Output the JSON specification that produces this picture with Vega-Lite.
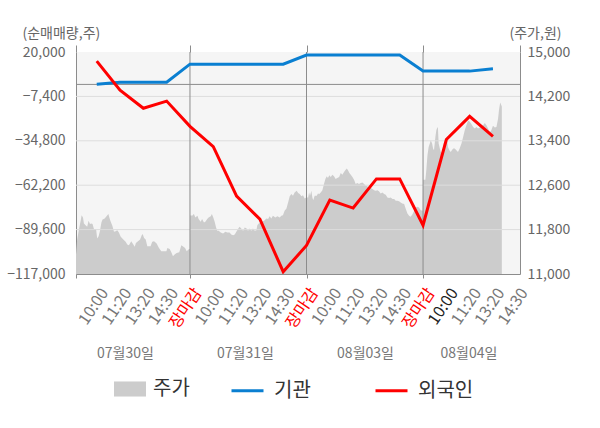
{
  "$schema": "https://vega.github.io/schema/vega-lite/v6.json",
  "width": 444,
  "height": 222,
  "autosize": {"type": "none"},
  "padding": {"left": 76, "top": 52, "right": 80, "bottom": 154},
  "background": "white",
  "config": {
    "font": "Noto Sans CJK KR",
    "view": {"fill": "#f5f5f5", "stroke": null}
  },
  "datasets": {
    "price": [
      {"t": 0.11, "p": 11350}, {"t": 0.16, "p": 11620}, {"t": 0.24, "p": 11810}, {"t": 0.31, "p": 11960},
      {"t": 0.35, "p": 12060}, {"t": 0.41, "p": 12020}, {"t": 0.45, "p": 11910}, {"t": 0.52, "p": 11880},
      {"t": 0.59, "p": 11850}, {"t": 0.65, "p": 11960}, {"t": 0.71, "p": 11900}, {"t": 0.77, "p": 11910},
      {"t": 0.82, "p": 11900}, {"t": 0.88, "p": 11810}, {"t": 0.97, "p": 11810}, {"t": 1.02, "p": 11640},
      {"t": 1.08, "p": 11680}, {"t": 1.14, "p": 11780}, {"t": 1.2, "p": 11930}, {"t": 1.25, "p": 11980},
      {"t": 1.34, "p": 12000}, {"t": 1.42, "p": 12040}, {"t": 1.5, "p": 12080}, {"t": 1.54, "p": 12020},
      {"t": 1.6, "p": 11940}, {"t": 1.67, "p": 11870}, {"t": 1.74, "p": 11760}, {"t": 1.81, "p": 11770},
      {"t": 1.88, "p": 11790}, {"t": 1.95, "p": 11750}, {"t": 2.03, "p": 11670}, {"t": 2.14, "p": 11620},
      {"t": 2.24, "p": 11580}, {"t": 2.31, "p": 11530}, {"t": 2.38, "p": 11520}, {"t": 2.48, "p": 11590},
      {"t": 2.57, "p": 11530}, {"t": 2.63, "p": 11490}, {"t": 2.68, "p": 11560}, {"t": 2.77, "p": 11590},
      {"t": 2.86, "p": 11620}, {"t": 2.93, "p": 11700}, {"t": 2.97, "p": 11720}, {"t": 3.03, "p": 11650},
      {"t": 3.1, "p": 11620}, {"t": 3.17, "p": 11500}, {"t": 3.31, "p": 11500}, {"t": 3.38, "p": 11580},
      {"t": 3.46, "p": 11590}, {"t": 3.57, "p": 11550}, {"t": 3.67, "p": 11470}, {"t": 3.77, "p": 11410},
      {"t": 3.89, "p": 11410}, {"t": 3.99, "p": 11410}, {"t": 4.03, "p": 11470}, {"t": 4.13, "p": 11450},
      {"t": 4.2, "p": 11390}, {"t": 4.27, "p": 11320}, {"t": 4.34, "p": 11350}, {"t": 4.43, "p": 11380},
      {"t": 4.54, "p": 11390}, {"t": 4.63, "p": 11520}, {"t": 4.72, "p": 11490}, {"t": 4.79, "p": 11470},
      {"t": 4.86, "p": 11410}, {"t": 4.96, "p": 11450}, {"t": 5.0, "p": 11450},
      {"t": 5.01, "p": 12050}, {"t": 5.03, "p": 12060}, {"t": 5.09, "p": 12050}, {"t": 5.17, "p": 12080},
      {"t": 5.23, "p": 12020}, {"t": 5.32, "p": 12050}, {"t": 5.37, "p": 11990}, {"t": 5.46, "p": 11940},
      {"t": 5.52, "p": 11990}, {"t": 5.6, "p": 11930}, {"t": 5.66, "p": 11940}, {"t": 5.74, "p": 11990},
      {"t": 5.8, "p": 12020}, {"t": 5.89, "p": 12040}, {"t": 5.94, "p": 12080}, {"t": 6.0, "p": 12020},
      {"t": 6.06, "p": 11940}, {"t": 6.12, "p": 11840}, {"t": 6.17, "p": 11780}, {"t": 6.23, "p": 11780},
      {"t": 6.32, "p": 11750}, {"t": 6.42, "p": 11730}, {"t": 6.52, "p": 11760}, {"t": 6.6, "p": 11750},
      {"t": 6.7, "p": 11750}, {"t": 6.77, "p": 11710}, {"t": 6.85, "p": 11700}, {"t": 6.92, "p": 11710},
      {"t": 6.99, "p": 11760}, {"t": 7.06, "p": 11810}, {"t": 7.13, "p": 11850}, {"t": 7.2, "p": 11820},
      {"t": 7.28, "p": 11780}, {"t": 7.35, "p": 11840}, {"t": 7.43, "p": 11820}, {"t": 7.49, "p": 11780},
      {"t": 7.56, "p": 11820}, {"t": 7.63, "p": 11780}, {"t": 7.7, "p": 11820}, {"t": 7.78, "p": 11780},
      {"t": 7.85, "p": 11790}, {"t": 7.89, "p": 11880}, {"t": 7.95, "p": 11910}, {"t": 8.03, "p": 11930},
      {"t": 8.09, "p": 11940}, {"t": 8.18, "p": 11960}, {"t": 8.28, "p": 12000}, {"t": 8.35, "p": 11990},
      {"t": 8.42, "p": 12040}, {"t": 8.49, "p": 12000}, {"t": 8.56, "p": 12050}, {"t": 8.66, "p": 12020},
      {"t": 8.75, "p": 12040}, {"t": 8.85, "p": 12020}, {"t": 8.92, "p": 12050}, {"t": 8.99, "p": 12060},
      {"t": 9.06, "p": 12140}, {"t": 9.14, "p": 12180}, {"t": 9.21, "p": 12290}, {"t": 9.28, "p": 12400},
      {"t": 9.35, "p": 12440}, {"t": 9.42, "p": 12410}, {"t": 9.49, "p": 12470}, {"t": 9.58, "p": 12500},
      {"t": 9.64, "p": 12460}, {"t": 9.71, "p": 12440}, {"t": 9.78, "p": 12400}, {"t": 9.85, "p": 12420},
      {"t": 9.92, "p": 12360}, {"t": 9.99, "p": 12380},
      {"t": 10.07, "p": 12380}, {"t": 10.11, "p": 12470}, {"t": 10.15, "p": 12410}, {"t": 10.21, "p": 12500},
      {"t": 10.25, "p": 12380}, {"t": 10.29, "p": 12330}, {"t": 10.35, "p": 12410}, {"t": 10.44, "p": 12410},
      {"t": 10.49, "p": 12450}, {"t": 10.55, "p": 12440}, {"t": 10.61, "p": 12470}, {"t": 10.68, "p": 12510},
      {"t": 10.75, "p": 12620}, {"t": 10.81, "p": 12710}, {"t": 10.87, "p": 12760}, {"t": 10.92, "p": 12730},
      {"t": 10.98, "p": 12780}, {"t": 11.04, "p": 12750}, {"t": 11.11, "p": 12790}, {"t": 11.18, "p": 12760},
      {"t": 11.25, "p": 12710}, {"t": 11.32, "p": 12730}, {"t": 11.4, "p": 12750}, {"t": 11.47, "p": 12820},
      {"t": 11.54, "p": 12790}, {"t": 11.61, "p": 12840}, {"t": 11.68, "p": 12880}, {"t": 11.73, "p": 12900},
      {"t": 11.78, "p": 12870}, {"t": 11.84, "p": 12820}, {"t": 11.9, "p": 12790}, {"t": 11.97, "p": 12750},
      {"t": 12.04, "p": 12700}, {"t": 12.11, "p": 12620}, {"t": 12.18, "p": 12640}, {"t": 12.25, "p": 12620},
      {"t": 12.33, "p": 12640}, {"t": 12.4, "p": 12650}, {"t": 12.47, "p": 12620}, {"t": 12.54, "p": 12590},
      {"t": 12.61, "p": 12580}, {"t": 12.68, "p": 12530}, {"t": 12.76, "p": 12550}, {"t": 12.83, "p": 12530},
      {"t": 12.9, "p": 12510}, {"t": 12.97, "p": 12500}, {"t": 13.04, "p": 12510}, {"t": 13.11, "p": 12490},
      {"t": 13.18, "p": 12450}, {"t": 13.26, "p": 12470}, {"t": 13.33, "p": 12440}, {"t": 13.4, "p": 12430},
      {"t": 13.47, "p": 12380}, {"t": 13.54, "p": 12370}, {"t": 13.61, "p": 12380}, {"t": 13.69, "p": 12350},
      {"t": 13.76, "p": 12350}, {"t": 13.83, "p": 12320}, {"t": 13.9, "p": 12320}, {"t": 13.97, "p": 12310},
      {"t": 14.04, "p": 12290}, {"t": 14.11, "p": 12270}, {"t": 14.19, "p": 12260}, {"t": 14.26, "p": 12170},
      {"t": 14.33, "p": 12090}, {"t": 14.4, "p": 12050}, {"t": 14.47, "p": 12030}, {"t": 14.54, "p": 12070},
      {"t": 14.62, "p": 12140}, {"t": 14.69, "p": 12200}, {"t": 14.76, "p": 12210}, {"t": 14.83, "p": 12200},
      {"t": 14.9, "p": 12150}, {"t": 14.99, "p": 12140},
      {"t": 15.0, "p": 12700}, {"t": 15.1, "p": 12700}, {"t": 15.14, "p": 12870}, {"t": 15.19, "p": 13140},
      {"t": 15.24, "p": 13290}, {"t": 15.29, "p": 13350}, {"t": 15.33, "p": 13410}, {"t": 15.39, "p": 13350},
      {"t": 15.43, "p": 13260}, {"t": 15.47, "p": 13230}, {"t": 15.53, "p": 13470}, {"t": 15.57, "p": 13590},
      {"t": 15.62, "p": 13650}, {"t": 15.64, "p": 13620}, {"t": 15.67, "p": 13350}, {"t": 15.72, "p": 13260},
      {"t": 15.76, "p": 13200}, {"t": 15.82, "p": 13170}, {"t": 15.86, "p": 13290}, {"t": 15.9, "p": 13380},
      {"t": 15.96, "p": 13410}, {"t": 16.02, "p": 13440}, {"t": 16.07, "p": 13290}, {"t": 16.13, "p": 13230},
      {"t": 16.19, "p": 13200}, {"t": 16.25, "p": 13240}, {"t": 16.3, "p": 13260}, {"t": 16.36, "p": 13260},
      {"t": 16.43, "p": 13230}, {"t": 16.5, "p": 13200}, {"t": 16.57, "p": 13260}, {"t": 16.65, "p": 13350},
      {"t": 16.72, "p": 13470}, {"t": 16.79, "p": 13590}, {"t": 16.86, "p": 13680}, {"t": 16.93, "p": 13760},
      {"t": 17.0, "p": 13750}, {"t": 17.08, "p": 13700}, {"t": 17.15, "p": 13650}, {"t": 17.22, "p": 13620},
      {"t": 17.29, "p": 13650}, {"t": 17.36, "p": 13620}, {"t": 17.43, "p": 13640}, {"t": 17.5, "p": 13650},
      {"t": 17.58, "p": 13680}, {"t": 17.65, "p": 13720}, {"t": 17.72, "p": 13680}, {"t": 17.79, "p": 13620},
      {"t": 17.86, "p": 13550}, {"t": 17.93, "p": 13590}, {"t": 18.0, "p": 13670}, {"t": 18.08, "p": 13640},
      {"t": 18.15, "p": 13650}, {"t": 18.22, "p": 13800}, {"t": 18.26, "p": 13960}, {"t": 18.31, "p": 14090},
      {"t": 18.35, "p": 14050}, {"t": 18.38, "p": 14020}
    ],
    "net": [
      {"t": 1, "who": "기관", "v": 100}, {"t": 2, "who": "기관", "v": 1300}, {"t": 3, "who": "기관", "v": 1300},
      {"t": 4, "who": "기관", "v": 1300}, {"t": 5, "who": "기관", "v": 12500}, {"t": 6, "who": "기관", "v": 12500},
      {"t": 7, "who": "기관", "v": 12500}, {"t": 8, "who": "기관", "v": 12500}, {"t": 9, "who": "기관", "v": 12500},
      {"t": 10, "who": "기관", "v": 18100}, {"t": 11, "who": "기관", "v": 18100}, {"t": 12, "who": "기관", "v": 18100},
      {"t": 13, "who": "기관", "v": 18100}, {"t": 14, "who": "기관", "v": 18100}, {"t": 15, "who": "기관", "v": 8300},
      {"t": 16, "who": "기관", "v": 8200}, {"t": 17, "who": "기관", "v": 8200}, {"t": 18, "who": "기관", "v": 9600},
      {"t": 1, "who": "외국인", "v": 14400}, {"t": 2, "who": "외국인", "v": -3500}, {"t": 3, "who": "외국인", "v": -14700},
      {"t": 4, "who": "외국인", "v": -10300}, {"t": 5, "who": "외국인", "v": -25900}, {"t": 6, "who": "외국인", "v": -38400},
      {"t": 7, "who": "외국인", "v": -68900}, {"t": 8, "who": "외국인", "v": -83200}, {"t": 9, "who": "외국인", "v": -115600},
      {"t": 10, "who": "외국인", "v": -99400}, {"t": 11, "who": "외국인", "v": -71400}, {"t": 12, "who": "외국인", "v": -76300},
      {"t": 13, "who": "외국인", "v": -58300}, {"t": 14, "who": "외국인", "v": -58300}, {"t": 15, "who": "외국인", "v": -86900},
      {"t": 16, "who": "외국인", "v": -34000}, {"t": 17, "who": "외국인", "v": -19700}, {"t": 18, "who": "외국인", "v": -32100}
    ],
    "grid": [{"g": -7400}, {"g": -34800}, {"g": -62200}, {"g": -89600}],
    "zero": [{"g": 0}],
    "days": [{"b": 5}, {"b": 10}, {"b": 15}]
  },
  "layer": [
    {
      "data": {"name": "price"},
      "mark": {"type": "area", "color": "#cccccc"},
      "encoding": {
        "x": {
          "field": "t", "type": "quantitative",
          "scale": {"domain": [0.11, 19.16], "nice": false, "zero": false},
          "axis": {
            "orient": "bottom",
            "values": [0.11, 1, 2, 3, 4, 5, 6, 7, 8, 9, 10, 11, 12, 13, 14, 15, 16, 17, 18, 19],
            "labelExpr": "datum.value < 1 ? '' : ['10:00', '11:20', '13:20', '14:30', '장마감'][(datum.value - 1) % 5]",
            "labelAngle": -56,
            "labelAlign": "right",
            "labelBaseline": "top",
            "labelFontSize": 16,
            "labelPadding": 7,
            "labelOffset": 1,
            "labelOverlap": false,
            "labelBound": false,
            "labelFlush": false,
            "labelColor": {
              "condition": [
                {"test": "datum.value % 5 === 0", "value": "#ff0000"},
                {"test": "datum.value === 16", "value": "#222222"}
              ],
              "value": "#777777"
            },
            "ticks": true,
            "tickSize": 4,
            "tickColor": {
              "condition": {"test": "datum.value % 5 === 0 || datum.value < 1", "value": "#8c8c8c"},
              "value": "transparent"
            },
            "domain": true,
            "domainColor": "#8c8c8c",
            "grid": false,
            "title": null,
            "zindex": 1
          }
        },
        "y": {
          "field": "p", "type": "quantitative",
          "scale": {"domain": [11000, 15000], "nice": false, "zero": false},
          "axis": {
            "orient": "right",
            "values": [11000, 11800, 12600, 13400, 14200, 15000],
            "format": ",d",
            "labelFontSize": 14,
            "labelColor": "#666666",
            "labelPadding": 7,
            "ticks": false,
            "grid": false,
            "domain": true,
            "domainColor": "#8c8c8c",
            "title": "(주가,원)",
            "titleAngle": 0,
            "titleAlign": "left",
            "titleBaseline": "middle",
            "titleX": -11,
            "titleY": -19,
            "titleFontSize": 14,
            "titleFontWeight": "normal",
            "titleColor": "#666666"
          }
        },
        "y2": {"datum": 11000},
        "fill": {
          "datum": "주가",
          "scale": {"domain": ["주가"], "range": ["#cccccc"]},
          "legend": {
            "orient": "none",
            "legendX": 38,
            "legendY": 321,
            "title": null,
            "symbolType": "M-1,-0.47H1V0.47H-1Z",
            "symbolSize": 1024,
            "symbolStrokeWidth": 0,
            "labelFontSize": 20,
            "labelColor": "#333333",
            "labelOffset": 7
          }
        }
      }
    },
    {
      "data": {"name": "grid"},
      "mark": {"type": "rule", "color": "#dddddd", "strokeWidth": 1},
      "encoding": {
        "y": {"field": "g", "type": "quantitative", "scale": {"domain": [-117000, 20000], "nice": false}, "axis": null}
      }
    },
    {
      "data": {"name": "zero"},
      "mark": {"type": "rule", "color": "#8c8c8c", "strokeWidth": 1},
      "encoding": {
        "y": {"field": "g", "type": "quantitative", "scale": {"domain": [-117000, 20000], "nice": false}, "axis": null}
      }
    },
    {
      "data": {"name": "days"},
      "mark": {"type": "rule", "color": "#8c8c8c", "strokeWidth": 1},
      "encoding": {
        "x": {
          "field": "b", "type": "quantitative",
          "scale": {"domain": [0.11, 19.16], "nice": false, "zero": false},
          "axis": {
            "orient": "bottom",
            "offset": 72,
            "values": [2.21, 7.36, 12.51, 16.95],
            "labelExpr": "datum.value < 5 ? '07월30일' : datum.value < 10 ? '07월31일' : datum.value < 15 ? '08월03일' : '08월04일'",
            "labelAngle": 0,
            "labelAlign": "center",
            "labelBaseline": "middle",
            "labelFontSize": 14,
            "labelColor": "#777777",
            "labelPadding": 7,
            "labelOverlap": false,
            "labelFlush": false,
            "ticks": false,
            "domain": false,
            "grid": false,
            "title": null
          }
        }
      }
    },
    {
      "data": {"name": "net"},
      "mark": {"type": "line", "strokeWidth": 3},
      "encoding": {
        "x": {
          "field": "t", "type": "quantitative",
          "scale": {"domain": [0.11, 19.16], "nice": false, "zero": false},
          "axis": {
            "orient": "top",
            "values": [0.11, 5, 10, 15, 19.16],
            "labels": false,
            "ticks": true,
            "tickSize": 7,
            "tickColor": "#8c8c8c",
            "domain": false,
            "grid": false,
            "title": null
          }
        },
        "y": {
          "field": "v", "type": "quantitative",
          "scale": {"domain": [-117000, 20000], "nice": false},
          "axis": {
            "orient": "left",
            "values": [20000, -7400, -34800, -62200, -89600, -117000],
            "format": ",d",
            "labelFontSize": 14,
            "labelColor": "#666666",
            "labelPadding": 11,
            "ticks": false,
            "grid": false,
            "domain": true,
            "domainColor": "#8c8c8c",
            "title": "(순매매량,주)",
            "titleAngle": 0,
            "titleAlign": "left",
            "titleBaseline": "middle",
            "titleX": -54,
            "titleY": -19,
            "titleFontSize": 14,
            "titleFontWeight": "normal",
            "titleColor": "#666666"
          }
        },
        "stroke": {
          "field": "who", "type": "nominal",
          "scale": {"domain": ["기관", "외국인"], "range": ["#0a7fd1", "#ff0000"]},
          "legend": {
            "orient": "none",
            "legendX": 154,
            "legendY": 321,
            "direction": "horizontal",
            "title": null,
            "symbolType": "stroke",
            "symbolSize": 1024,
            "symbolStrokeWidth": 3,
            "labelFontSize": 20,
            "labelColor": "#333333",
            "labelOffset": 9,
            "columnPadding": 58
          }
        }
      }
    }
  ],
  "resolve": {"scale": {"y": "independent"}, "axis": {"x": "independent"}}
}
